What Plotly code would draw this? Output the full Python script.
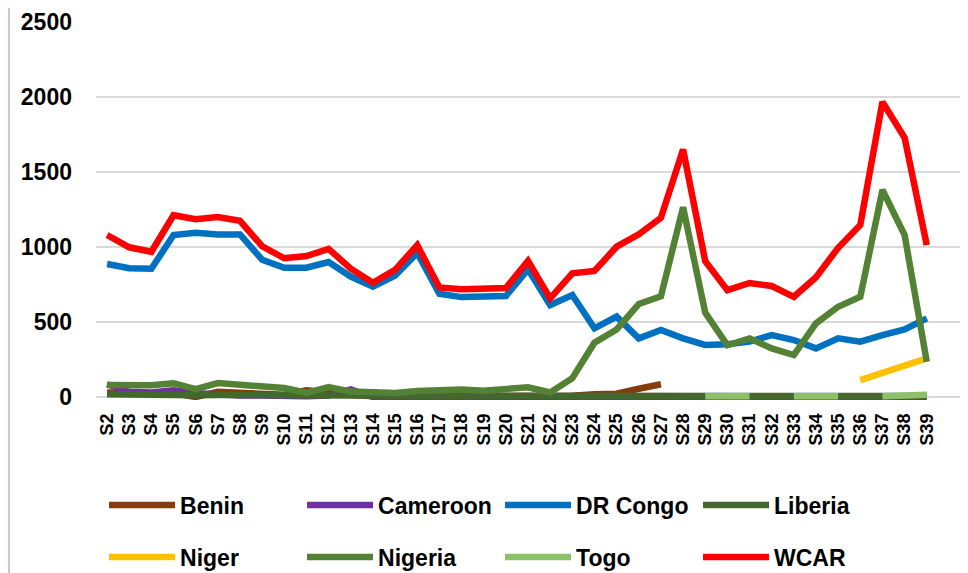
import plotly.graph_objects as go

weeks = ["S2", "S3", "S4", "S5", "S6", "S7", "S8", "S9", "S10", "S11", "S12", "S13",
         "S14", "S15", "S16", "S17", "S18", "S19", "S20", "S21", "S22", "S23", "S24",
         "S25", "S26", "S27", "S28", "S29", "S30", "S31", "S32", "S33", "S34", "S35",
         "S36", "S37", "S38", "S39"]

benin = [30, 20, 20, 25, 0, 35, 30, 20, 15, 45, 25, 15, 5, 5, 5, 5, 5, 5, 5, 5, 5, 8,
         18, 22, 55, 85, None, None, None, None, None, None, None, None, None, None,
         None, None]
cameroon = [85, 35, 30, 45, 25, 15, 10, 10, 5, 5, 10, 50, 0, 0, 0, 0, 0, 0, 0, 0, 0,
            0, 0, 0, 0, 0, 0, 0, 0, 0, 0, 0, 0, 0, 0, 0, 0, 0]
dr_congo = [887, 858, 855, 1080, 1095, 1084, 1084, 915, 862, 862, 900, 802, 735, 810,
            960, 688, 666, 673, 673, 851, 613, 680, 458, 536, 391, 447, 391, 347, 352,
            369, 413, 380, 324, 391, 369, 413, 451, 524]
liberia = [18, 15, 15, 15, 12, 14, 12, 12, 10, 8, 12, 10, 8, 8, 8, 8, 8, 8, 8, 8, 8, 8,
           8, 8, 8, 8, 8, 6, 6, 6, 6, 6, 6, 6, 6, 6, 6, 6]
niger = [None, None, None, None, None, None, None, None, None, None, None, None, None,
         None, None, None, None, None, None, None, None, None, None, None, None, None,
         None, None, None, None, None, None, None, None, 113, 162, 202, 258]
nigeria = [80, 78, 78, 92, 53, 93, 82, 70, 60, 28, 66, 36, 27, 27, 40, 45, 50, 42, 52,
           65, 30, 125, 362, 450, 620, 672, 1265, 562, 345, 391, 324, 280, 491, 602,
           669, 1380, 1080, 235]
togo = [None, None, None, None, None, None, None, None, None, None, None, None, None,
        None, None, None, None, None, None, None, None, None, None, None, None, None,
        None, 5, 5, 5, None, 5, 5, 5, None, 5, 8, 15]
wcar = [1080, 998, 968, 1212, 1185, 1200, 1175, 1005, 925, 940, 988, 855, 762, 848,
        1012, 730, 718, 727, 727, 907, 658, 825, 840, 1002, 1085, 1195, 1650, 905, 712,
        760, 740, 668, 798, 995, 1147, 1967, 1728, 1012]
y_ticks = [0, 500, 1000, 1500, 2000, 2500]

series = [
    ("Benin", benin, "#843C0C", "legend"),
    ("Cameroon", cameroon, "#7030A0", "legend"),
    ("DR Congo", dr_congo, "#0070C0", "legend"),
    ("Liberia", liberia, "#43682B", "legend"),
    ("Niger", niger, "#FFC000", "legend2"),
    ("Nigeria", nigeria, "#548235", "legend2"),
    ("Togo", togo, "#8CC168", "legend2"),
    ("WCAR", wcar, "#FF0000", "legend2"),
]

fig = go.Figure()
for name, vals, color, leg in series:
    fig.add_trace(go.Scatter(
        x=weeks, y=vals, name=name, mode="lines", connectgaps=False,
        line=dict(color=color, width=6.5), legend=leg,
    ))

FONT = "Liberation Sans, Arial, sans-serif"
legend_common = dict(
    orientation="h", xanchor="left", yanchor="middle",
    font=dict(family=FONT, size=23, color="black", weight="bold"),
    entrywidth=117, entrywidthmode="pixels", bgcolor="rgba(0,0,0,0)",
    itemwidth=66,
)

fig.update_layout(
    width=968, height=573,
    margin=dict(l=88, r=16, t=14, b=181, autoexpand=False),
    paper_bgcolor="white", plot_bgcolor="white",
    showlegend=True,
    legend=dict(x=0.0093, y=-0.2778, **legend_common),
    legend2=dict(x=0.0093, y=-0.4153, **legend_common),
    xaxis=dict(
        type="category", range=[-0.5, 38.5], showgrid=False, showline=False,
        tickmode="array", tickvals=weeks, ticktext=weeks, automargin=False,
        ticks="", tickangle=-90, ticklabelstandoff=9,
        tickfont=dict(family=FONT, size=18, color="black", weight="bold"),
    ),
    yaxis=dict(
        range=[-20, 2500], tickvals=y_ticks, automargin=False,
        showgrid=True, gridcolor="#D9D9D9", gridwidth=2,
        zeroline=True, zerolinecolor="#D9D9D9", zerolinewidth=2,
        showline=False, ticks="", ticklabelstandoff=23,
        tickfont=dict(family=FONT, size=23, color="black", weight="bold"),
    ),
    shapes=[dict(type="line", xref="paper", yref="paper",
                 x0=-0.1007, x1=-0.1007, y0=-0.5, y1=1.05,
                 line=dict(color="#D8C4DA", width=2))],
)

fig.write_html("out.html")
